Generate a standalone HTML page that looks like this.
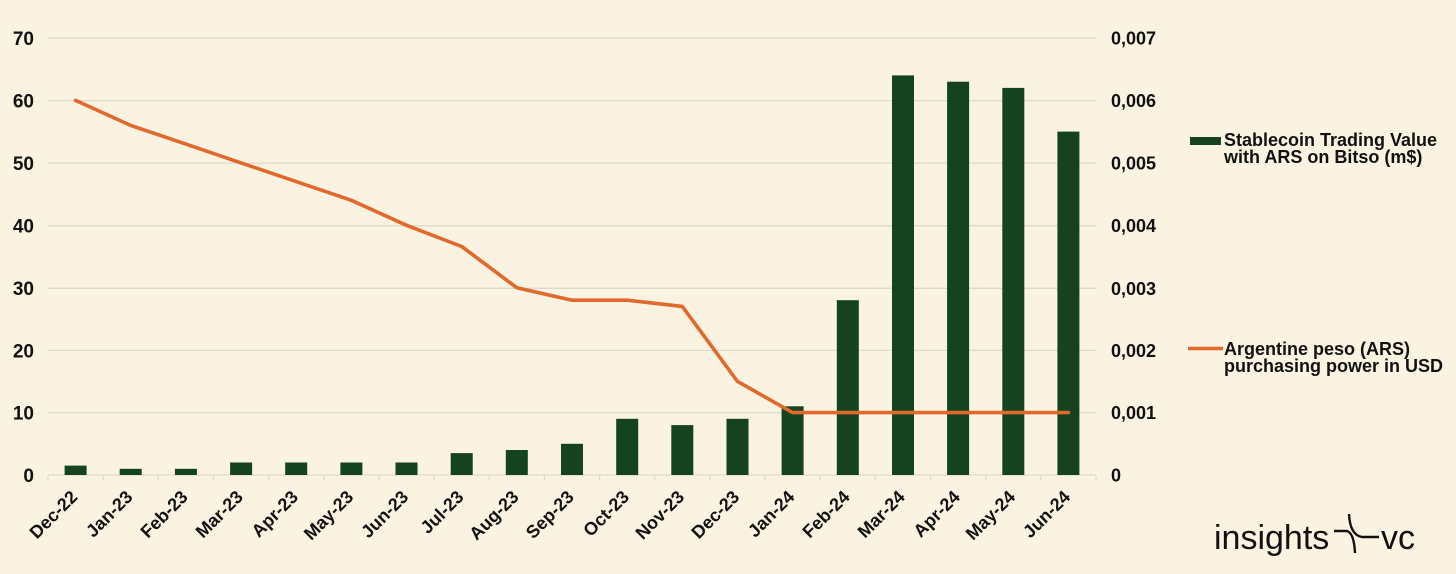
<!DOCTYPE html>
<html>
<head>
<meta charset="utf-8">
<style>
html,body{margin:0;padding:0;background:#FAF3E2;}
svg{display:block;}
text{font-family:"Liberation Sans",Arial,sans-serif;fill:#111;}
.t{font-size:18px;font-weight:bold;}
.tl{font-size:19px;font-weight:bold;}
.x{font-size:18px;font-weight:bold;}
.lg{font-size:18px;font-weight:bold;}
</style>
</head>
<body>
<svg width="1456" height="574" viewBox="0 0 1456 574" xmlns="http://www.w3.org/2000/svg">
<rect width="1456" height="574" fill="#FAF3E2"/>
<!-- gridlines -->
<g stroke="#DFD8CF" stroke-width="1.3">
<line x1="48" y1="38" x2="1096" y2="38"/>
<line x1="48" y1="100.6" x2="1096" y2="100.6"/>
<line x1="48" y1="163.1" x2="1096" y2="163.1"/>
<line x1="48" y1="225.7" x2="1096" y2="225.7"/>
<line x1="48" y1="288.3" x2="1096" y2="288.3"/>
<line x1="48" y1="350.4" x2="1096" y2="350.4"/>
<line x1="48" y1="412.6" x2="1096" y2="412.6"/>
<line x1="48" y1="475" x2="1096" y2="475"/>
</g>
<!-- ticks -->
<g stroke="#DFD8CF" stroke-width="1.3">
<line x1="48" y1="475" x2="48" y2="480"/><line x1="103.2" y1="475" x2="103.2" y2="480"/><line x1="158.3" y1="475" x2="158.3" y2="480"/><line x1="213.5" y1="475" x2="213.5" y2="480"/><line x1="268.6" y1="475" x2="268.6" y2="480"/><line x1="323.8" y1="475" x2="323.8" y2="480"/><line x1="378.9" y1="475" x2="378.9" y2="480"/><line x1="434.1" y1="475" x2="434.1" y2="480"/><line x1="489.3" y1="475" x2="489.3" y2="480"/><line x1="544.4" y1="475" x2="544.4" y2="480"/><line x1="599.6" y1="475" x2="599.6" y2="480"/><line x1="654.7" y1="475" x2="654.7" y2="480"/><line x1="709.9" y1="475" x2="709.9" y2="480"/><line x1="765" y1="475" x2="765" y2="480"/><line x1="820.2" y1="475" x2="820.2" y2="480"/><line x1="875.4" y1="475" x2="875.4" y2="480"/><line x1="930.5" y1="475" x2="930.5" y2="480"/><line x1="985.7" y1="475" x2="985.7" y2="480"/><line x1="1040.8" y1="475" x2="1040.8" y2="480"/><line x1="1096" y1="475" x2="1096" y2="480"/>
</g>
<!-- bars -->
<g fill="#15421F">
<rect x="64.6" y="465.6" width="22" height="9.4"/>
<rect x="119.7" y="468.8" width="22" height="6.2"/>
<rect x="174.9" y="468.8" width="22" height="6.2"/>
<rect x="230.1" y="462.5" width="22" height="12.5"/>
<rect x="285.2" y="462.5" width="22" height="12.5"/>
<rect x="340.4" y="462.5" width="22" height="12.5"/>
<rect x="395.5" y="462.5" width="22" height="12.5"/>
<rect x="450.7" y="453.1" width="22" height="21.9"/>
<rect x="505.8" y="450" width="22" height="25"/>
<rect x="561" y="443.8" width="22" height="31.2"/>
<rect x="616.2" y="418.8" width="22" height="56.2"/>
<rect x="671.3" y="425.1" width="22" height="49.9"/>
<rect x="726.5" y="418.8" width="22" height="56.2"/>
<rect x="781.6" y="406.3" width="22" height="68.7"/>
<rect x="836.8" y="300.2" width="22" height="174.8"/>
<rect x="892" y="75.4" width="22" height="399.6"/>
<rect x="947.1" y="81.7" width="22" height="393.3"/>
<rect x="1002.3" y="87.9" width="22" height="387.1"/>
<rect x="1057.4" y="131.6" width="22" height="343.4"/>
</g>
<!-- line -->
<polyline fill="none" stroke="#E0692B" stroke-width="3.6" stroke-linejoin="round" stroke-linecap="round"
points="75.6,100.4 130.7,125.4 185.9,144.1 241.1,162.9 296.2,181.6 351.4,200.3 406.5,225.3 461.7,246.5 516.8,287.7 572,300.2 627.2,300.2 682.3,306.4 737.5,381.4 792.6,412.6 847.8,412.6 903,412.6 958.1,412.6 1013.3,412.6 1068.4,412.6"/>
<!-- left axis labels -->
<g class="tl" text-anchor="end">
<text x="34" y="44.8">70</text>
<text x="34" y="107.3">60</text>
<text x="34" y="169.9">50</text>
<text x="34" y="232.5">40</text>
<text x="34" y="295.1">30</text>
<text x="34" y="357.3">20</text>
<text x="34" y="419.3">10</text>
<text x="34" y="481.8">0</text>
</g>
<!-- right axis labels -->
<g class="t">
<text x="1111" y="44.5">0,007</text>
<text x="1111" y="107">0,006</text>
<text x="1111" y="169.6">0,005</text>
<text x="1111" y="232.2">0,004</text>
<text x="1111" y="294.8">0,003</text>
<text x="1111" y="357">0,002</text>
<text x="1111" y="419">0,001</text>
<text x="1111" y="481.5">0</text>
</g>
<!-- x labels -->
<g class="x" text-anchor="end">
<text x="78.6" y="498" transform="rotate(-45 78.6 498)">Dec-22</text>
<text x="133.7" y="498" transform="rotate(-45 133.7 498)">Jan-23</text>
<text x="188.9" y="498" transform="rotate(-45 188.9 498)">Feb-23</text>
<text x="244.1" y="498" transform="rotate(-45 244.1 498)">Mar-23</text>
<text x="299.2" y="498" transform="rotate(-45 299.2 498)">Apr-23</text>
<text x="354.4" y="498" transform="rotate(-45 354.4 498)">May-23</text>
<text x="409.5" y="498" transform="rotate(-45 409.5 498)">Jun-23</text>
<text x="464.7" y="498" transform="rotate(-45 464.7 498)">Jul-23</text>
<text x="519.8" y="498" transform="rotate(-45 519.8 498)">Aug-23</text>
<text x="575" y="498" transform="rotate(-45 575 498)">Sep-23</text>
<text x="630.2" y="498" transform="rotate(-45 630.2 498)">Oct-23</text>
<text x="685.3" y="498" transform="rotate(-45 685.3 498)">Nov-23</text>
<text x="740.5" y="498" transform="rotate(-45 740.5 498)">Dec-23</text>
<text x="795.6" y="498" transform="rotate(-45 795.6 498)">Jan-24</text>
<text x="850.8" y="498" transform="rotate(-45 850.8 498)">Feb-24</text>
<text x="906" y="498" transform="rotate(-45 906 498)">Mar-24</text>
<text x="961.1" y="498" transform="rotate(-45 961.1 498)">Apr-24</text>
<text x="1016.3" y="498" transform="rotate(-45 1016.3 498)">May-24</text>
<text x="1071.4" y="498" transform="rotate(-45 1071.4 498)">Jun-24</text>
</g>
<!-- legend -->
<rect x="1190" y="137" width="31" height="8" fill="#15421F"/>
<text class="lg" x="1224" y="146">Stablecoin Trading Value</text>
<text class="lg" x="1224" y="163">with ARS on Bitso (m$)</text>
<line x1="1188" y1="348.5" x2="1223" y2="348.5" stroke="#E0692B" stroke-width="3.4"/>
<text class="lg" x="1224" y="355">Argentine peso (ARS)</text>
<text class="lg" x="1224" y="372">purchasing power in USD</text>
<!-- logo -->
<text x="1214" y="549" style="font-size:34px;font-weight:normal;fill:#111;">insights</text>
<g fill="none" stroke="#111" stroke-width="2.4">
<path d="M1334,531 H1347 Q1354,533 1355,553"/>
<path d="M1349,514 Q1350,535 1362,537 H1379"/>
</g>
<text x="1381" y="549" style="font-size:34px;font-weight:normal;fill:#111;">vc</text>
</svg>
</body>
</html>
